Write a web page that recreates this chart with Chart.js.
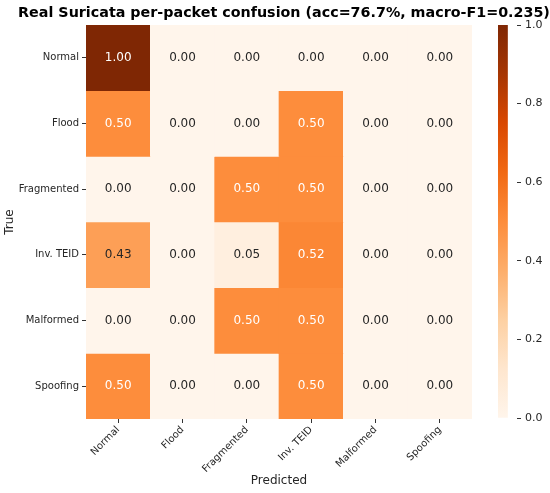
<!DOCTYPE html>
<html lang="en">
<head>
<meta charset="UTF-8">
<title>Real Suricata per-packet confusion</title>
<script src="https://cdn.jsdelivr.net/npm/chart.js@4"></script>
<style>
  html, body { margin: 0; padding: 0; background: #fff; }
  #wrap { position: relative; width: 550px; height: 493px; }
  #wrap canvas { position: absolute; left: 0; top: 0; }
</style>
</head>
<body>
<div id="wrap">
  <canvas id="heatmap" width="550" height="493"></canvas>
  <canvas id="colorbar" width="550" height="493"></canvas>
</div>
<script>
// class labels (rows = true, columns = predicted)
var trueLabels = ["Normal", "Flood", "Fragmented", "Inv. TEID", "Malformed", "Spoofing"];
var predLabels = ["Normal", "Flood", "Fragmented", "Inv. TEID", "Malformed", "Spoofing"];

// row-normalised confusion values, one array per true class
var rowNormal     = [1.00, 0.00, 0.00, 0.00, 0.00, 0.00];
var rowFlood      = [0.50, 0.00, 0.00, 0.50, 0.00, 0.00];
var rowFragmented = [0.00, 0.00, 0.50, 0.50, 0.00, 0.00];
var rowInvTeid    = [0.43, 0.00, 0.05, 0.52, 0.00, 0.00];
var rowMalformed  = [0.00, 0.00, 0.50, 0.50, 0.00, 0.00];
var rowSpoofing   = [0.50, 0.00, 0.00, 0.50, 0.00, 0.00];

var colorbarTicks = [0, 0.2, 0.4, 0.6, 0.8, 1.0];

var matrix = [rowNormal, rowFlood, rowFragmented, rowInvTeid, rowMalformed, rowSpoofing];

var chartTitle = "Real Suricata per-packet confusion (acc=76.7%, macro-F1=0.235)";

// matplotlib "Oranges"
var oranges = ["#fff5eb", "#fee6ce", "#fdd0a2", "#fdae6b", "#fd8d3c",
               "#f16913", "#d94801", "#a63603", "#7f2704"];

function hexToRgb(h) {
    return [parseInt(h.substr(1, 2), 16), parseInt(h.substr(3, 2), 16), parseInt(h.substr(5, 2), 16)];
}

function cmapRgb(v) {
    var t = Math.max(0, Math.min(1, v)) * (oranges.length - 1);
    var i = Math.min(Math.floor(t), oranges.length - 2);
    var f = t - i;
    var a = hexToRgb(oranges[i]), b = hexToRgb(oranges[i + 1]);
    return [0, 1, 2].map(function (k) { return Math.round(a[k] + (b[k] - a[k]) * f); });
}

function cmap(v) {
    var c = cmapRgb(v);
    return "rgb(" + c[0] + "," + c[1] + "," + c[2] + ")";
}

// same rule seaborn uses to pick the annotation colour
function luminance(rgb) {
    var lin = rgb.map(function (c) {
        c = c / 255;
        return c <= 0.03928 ? c / 12.92 : Math.pow((c + 0.055) / 1.055, 2.4);
    });
    return 0.2126 * lin[0] + 0.7152 * lin[1] + 0.0722 * lin[2];
}

var FONT = "'DejaVu Sans', sans-serif";
var TEXT = "#262626";

var cellLabels = {
    id: "cellLabels",
    afterDatasetsDraw: function (chart) {
        var ctx = chart.ctx;
        ctx.save();
        ctx.font = "12px " + FONT;
        ctx.textAlign = "center";
        ctx.textBaseline = "middle";
        chart.data.datasets.forEach(function (ds, i) {
            var meta = chart.getDatasetMeta(i);
            meta.data.forEach(function (bar, j) {
                var v = ds.values[j];
                ctx.fillStyle = luminance(cmapRgb(v)) < 0.408 ? "#ffffff" : TEXT;
                ctx.fillText(v.toFixed(2), bar.x, (bar.y + bar.base) / 2);
            });
        });
        ctx.restore();
    }
};

// figure title, centred over heatmap + colorbar like the original
var figTitle = {
    id: "figTitle",
    afterDraw: function (chart) {
        var ctx = chart.ctx;
        ctx.save();
        ctx.font = "bold 14.3px " + FONT;
        ctx.fillStyle = "#000";
        ctx.textAlign = "center";
        ctx.textBaseline = "middle";
        ctx.fillText(chartTitle, 284, 13);
        ctx.restore();
    }
};

var tickGrid = {
    display: true,
    drawOnChartArea: false,
    drawTicks: true,
    tickLength: 4,
    color: "#333",
    offset: false
};

new Chart(document.getElementById("heatmap"), {
    type: "bar",
    data: {
        labels: predLabels,
        datasets: matrix.map(function (row, i) {
            return {
                label: trueLabels[i],
                data: row.map(function () { return 1; }),
                values: row,
                backgroundColor: row.map(cmap),
                borderWidth: 0,
                barPercentage: 1,
                categoryPercentage: 1
            };
        })
    },
    options: {
        responsive: false,
        animation: false,
        layout: { padding: { left: 0, right: 78, top: 25, bottom: 0 } },
        plugins: {
            legend: { display: false },
            tooltip: { enabled: false },
            title: { display: false }
        },
        scales: {
            x: {
                type: "category",
                stacked: true,
                offset: true,
                grid: tickGrid,
                border: { display: false },
                ticks: {
                    minRotation: 45,
                    maxRotation: 45,
                    color: TEXT,
                    padding: 1,
                    font: { family: FONT, size: 10 }
                },
                title: {
                    display: true,
                    text: "Predicted",
                    color: TEXT,
                    font: { family: FONT, size: 12 },
                    padding: { top: 0, bottom: 5 }
                },
                afterFit: function (s) { s.height = 74; }
            },
            y: {
                type: "linear",
                stacked: true,
                reverse: true,
                min: 0,
                max: trueLabels.length,
                grid: tickGrid,
                border: { display: false },
                afterBuildTicks: function (s) {
                    s.ticks = trueLabels.map(function (_, i) { return { value: i + 0.5 }; });
                },
                ticks: {
                    color: TEXT,
                    padding: 3,
                    font: { family: FONT, size: 10 },
                    callback: function (v, idx) { return trueLabels[idx]; }
                },
                title: {
                    display: true,
                    text: "True",
                    color: TEXT,
                    font: { family: FONT, size: 12 },
                    padding: { top: 3, bottom: 0 }
                },
                afterFit: function (s) { s.width = 86; }
            }
        }
    },
    plugins: [cellLabels, figTitle]
});

// colorbar as a single floating bar with a gradient fill
new Chart(document.getElementById("colorbar"), {
    type: "bar",
    data: {
        labels: [""],
        datasets: [{
            data: [[0, 1]],
            borderWidth: 0,
            barPercentage: 1,
            categoryPercentage: 1,
            backgroundColor: function (c) {
                var area = c.chart.chartArea;
                if (!area) return oranges[0];
                var g = c.chart.ctx.createLinearGradient(0, area.bottom, 0, area.top);
                oranges.forEach(function (col, i) { g.addColorStop(i / (oranges.length - 1), col); });
                return g;
            }
        }]
    },
    options: {
        responsive: false,
        animation: false,
        layout: { padding: { left: 498, right: 0, top: 25, bottom: 75 } },
        plugins: { legend: { display: false }, tooltip: { enabled: false } },
        scales: {
            x: { display: false, offset: false },
            y: {
                position: "right",
                min: 0,
                max: 1,
                grid: { display: true, drawOnChartArea: false, tickLength: 4, color: "#333" },
                border: { display: false },
                afterBuildTicks: function (s) {
                    s.ticks = colorbarTicks.map(function (v) { return { value: v }; });
                },
                ticks: {
                    color: TEXT,
                    padding: 4,
                    font: { family: FONT, size: 11 },
                    callback: function (v) { return v.toFixed(1); }
                },
                afterFit: function (s) { s.width = 33; }
            }
        }
    }
});
</script>
</body>
</html>
